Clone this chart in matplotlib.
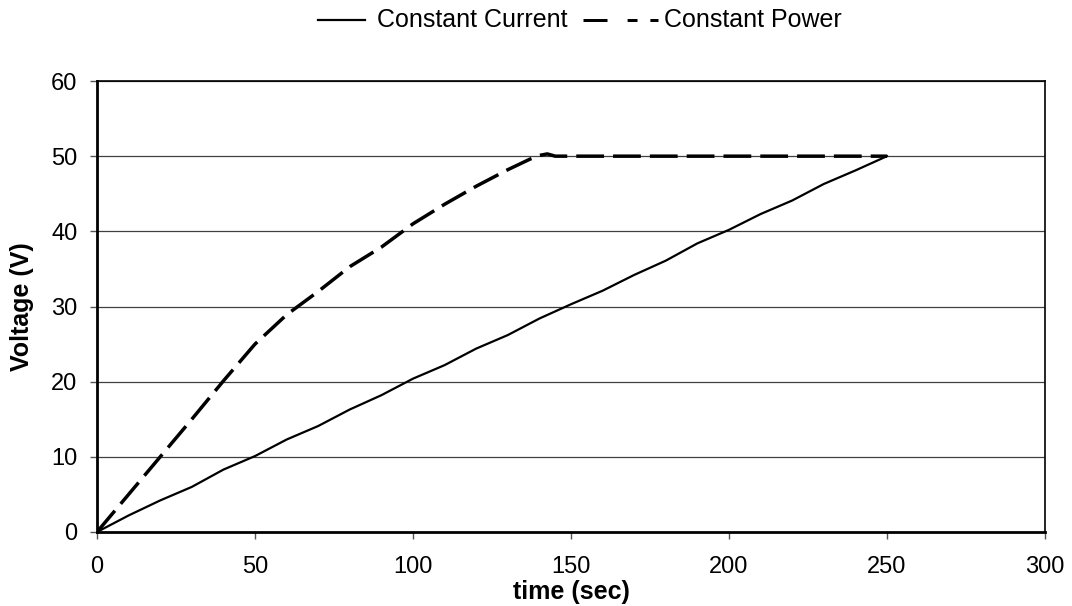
import matplotlib
matplotlib.use("Agg")
import matplotlib.pyplot as plt
from matplotlib.lines import Line2D

plt.rcParams['font.family'] = ['Liberation Sans', 'DejaVu Sans']

# Constant current series
cc_time = [0, 10, 20, 30, 40, 50, 60, 70, 80, 90, 100, 110, 120, 130, 140,
           150, 160, 170, 180, 190, 200, 210, 220, 230, 240, 250]
cc_volt = [0, 2.2, 4.2, 6.0, 8.3, 10.1, 12.3, 14.1, 16.3, 18.2, 20.4, 22.2, 24.4, 26.2, 28.4,
           30.3, 32.1, 34.2, 36.1, 38.4, 40.2, 42.3, 44.1, 46.3, 48.1, 50.0]

# Constant power series
cp_time = [0, 10, 20, 30, 40, 50, 60, 70, 80, 90, 100, 110, 120, 130, 137, 140, 142.5, 145,
           150, 160, 170, 180, 190, 200, 210, 220, 230, 240, 250]
cp_volt = [0, 5.0, 10.0, 15.0, 20.1, 25.0, 28.9, 32.0, 35.3, 37.9, 41.0, 43.6, 46.0, 48.2, 49.6, 50.1, 50.3, 50.0,
           50, 50, 50, 50, 50, 50, 50, 50, 50, 50, 50]

x_ticks = [0, 50, 100, 150, 200, 250, 300]
y_ticks = [0, 10, 20, 30, 40, 50, 60]
series_names = ['Constant Current', 'Constant Power']

W, H = 1072, 606
fig = plt.figure(figsize=(W / 100, H / 100), dpi=100)
ax = fig.add_axes([97/W, 1 - 532/H, (1045-97)/W, (532-81)/H])

for y in y_ticks[1:]:
    ax.axhline(y, color='#404040', lw=0.9, zorder=1)

ax.plot(cc_time, cc_volt, color='black', lw=1.6, zorder=3, solid_joinstyle='round')
ax.plot(cp_time, cp_volt, color='black', lw=2.5, dashes=(8, 2.6), zorder=3)

ax.set_xlim(0, 300)
ax.set_ylim(0, 60)
ax.set_xticks(x_ticks)
ax.set_yticks(y_ticks)
ax.tick_params(axis='both', labelsize=17, length=5, width=1, direction='out', color='#555555')
ax.tick_params(axis='x', pad=12)
ax.tick_params(axis='y', pad=9)

for s in ['left', 'bottom']:
    ax.spines[s].set_linewidth(2.0)
for s in ['right', 'top']:
    ax.spines[s].set_linewidth(1.2)
for s in ax.spines.values():
    s.set_color('black')

ax.set_xlabel('time (sec)', fontsize=18, fontweight='bold')
ax.set_ylabel('Voltage (V)', fontsize=18, fontweight='bold')
ax.xaxis.set_label_coords(0.5, -(580 - 532) / 451)
ax.yaxis.set_label_coords(-(97 - 34) / 948, 0.5)

# Legend drawn in figure pixel coordinates
ly = 1 - 20 / H
fig.add_artist(Line2D([318 / W, 365 / W], [ly, ly], color='black', lw=1.6,
                      transform=fig.transFigure))
fig.text(377 / W, ly, series_names[0], fontsize=18, va='center', ha='left')
fig.add_artist(Line2D([583 / W, 658 / W], [ly, ly], color='black', lw=2.16,
                      solid_capstyle='butt', dash_capstyle='butt',
                      dashes=(8, 6.7, 3.3, 4.3, 2.7, 20), transform=fig.transFigure))
fig.text(664 / W, ly, series_names[1], fontsize=18, va='center', ha='left')

fig.savefig('out.png', dpi=100)
